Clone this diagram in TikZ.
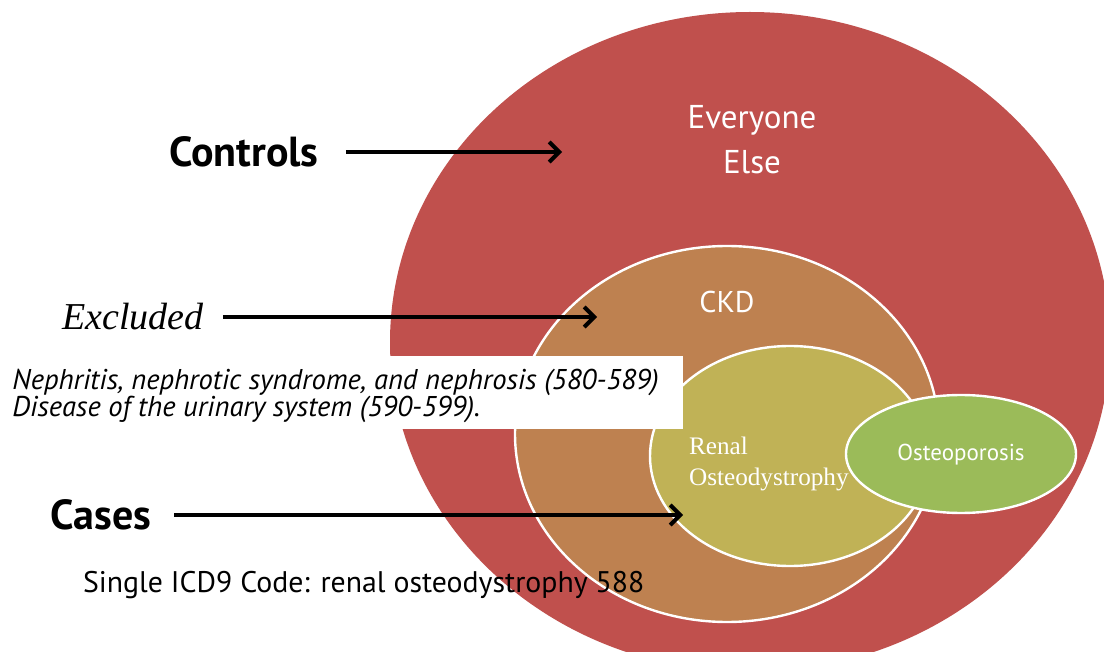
\documentclass[tikz,border=0pt]{standalone}
\usepackage{fontspec}
\usetikzlibrary{arrows.meta}
\setmainfont{Liberation Serif}
\setsansfont{PT Sans}
\definecolor{everyone}{HTML}{C0504D}
\definecolor{ckd}{HTML}{BE8150}
\definecolor{renal}{HTML}{C0B256}
\definecolor{osteo}{HTML}{9BBB59}
\begin{document}
\begin{tikzpicture}[
  x=0.5pt, y=-0.5pt,
  set/.style={draw=white, line width=1.2pt},
  pointer/.style={->, >={Straight Barb[length=5pt, width=10pt, line width=2pt]}, line width=2pt},
  tag/.style={font=\sffamily\bfseries\fontsize{21}{24}\selectfont},
  inside/.style={text=white, font=\sffamily\fontsize{16.5}{22.5}\selectfont, align=center}
]
  \clip (0,0) rectangle (1104,652);
  \fill[white] (0,0) rectangle (1104,652);
  % nested sets
  \fill[everyone] (750,342) ellipse [x radius=360, y radius=330];
  \filldraw[set, fill=ckd] (727,434) ellipse [x radius=212, y radius=188];
  \filldraw[set, fill=renal] (790,456) ellipse [x radius=140, y radius=110];
  \filldraw[set, fill=osteo] (961,454) ellipse [x radius=115, y radius=59];
  % excluded codes
  \fill[white] (0,356) rectangle (683,429);
  \node[anchor=west, align=left, inner sep=0pt,
        font=\sffamily\itshape\fontsize{14.3}{13.5}\selectfont] (codes) at (12,396)
    {Nephritis, nephrotic syndrome, and nephrosis (580-589)\\
     Disease of the urinary system (590-599).};

  \node[inside] (everyoneLbl) at (752,140) {Everyone\\Else};
  \node[inside, font=\sffamily\fontsize{15}{18}\selectfont] (ckdLbl) at (727,302) {CKD};
  \node[anchor=west, align=left, text=white, font=\fontsize{12.6}{15.5}\selectfont] (renalLbl) at (682,464) {Renal\\Osteodystrophy};
  \node[inside, font=\sffamily\fontsize{11.5}{14}\selectfont] (osteoLbl) at (961,455) {Osteoporosis};

  \node[tag] (controls) at (244,152) {Controls};
  \node[font=\itshape\fontsize{19}{22}\selectfont] (excluded) at (133,317) {Excluded};
  \node[tag] (cases) at (101,515) {Cases};
  \node[anchor=west, font=\sffamily\fontsize{14.9}{17}\selectfont] (icd) at (76,585) {Single ICD9 Code: renal osteodystrophy 588};

  \coordinate (controlsTip) at (562,152);
  \coordinate (excludedTip) at (597,317);
  \coordinate (casesTip) at (683,515);

  \draw[pointer, shorten <=10pt] (controls.east) -- (controlsTip);
  \draw[pointer, shorten <=6pt] (excluded.east) -- (excludedTip);
  \draw[pointer, shorten <=8pt] (cases.east) -- (casesTip);
\end{tikzpicture}
\end{document}
